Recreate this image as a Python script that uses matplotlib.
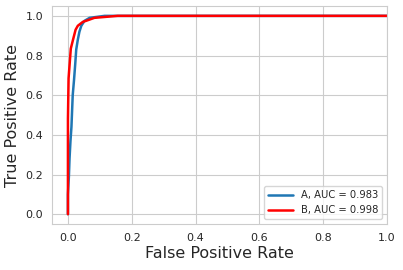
import matplotlib
matplotlib.use("Agg")
import matplotlib.pyplot as plt
import seaborn as sns

sns.set_style("whitegrid")
plt.rcParams['font.family'] = ['DejaVu Sans']

# ROC curve A
fpr_a = [0.0, 0.0, 0.003, 0.005, 0.008, 0.011, 0.015, 0.019, 0.023, 0.026, 0.031, 0.036, 0.042, 0.052, 0.068, 0.115, 1.0]
tpr_a = [0.0, 0.10, 0.19, 0.28, 0.37, 0.44, 0.60, 0.675, 0.76, 0.83, 0.88, 0.92, 0.95, 0.975, 0.99, 1.0, 1.0]
# ROC curve B
fpr_b = [0.0, 0.0, 0.002, 0.005, 0.009, 0.016, 0.024, 0.031, 0.047, 0.057, 0.083, 0.156, 1.0]
tpr_b = [0.0, 0.48, 0.685, 0.75, 0.835, 0.88, 0.93, 0.95, 0.97, 0.975, 0.99, 1.0, 1.0]
labels = ["A, AUC = 0.983", "B, AUC = 0.998"]

fig = plt.figure(figsize=(4.03, 2.70), dpi=100)
ax = fig.add_axes([0.129, 0.170, 0.831, 0.808])
ax.plot(fpr_a, tpr_a, color='#1f77b4', lw=1.8, label=labels[0])
ax.plot(fpr_b, tpr_b, color='red', lw=1.8, label=labels[1])
ax.set_xlim(-0.05, 1.0)
ax.set_ylim(-0.05, 1.05)
ax.set_xticks([0, 0.2, 0.4, 0.6, 0.8, 1.0])
ax.set_yticks([0, 0.2, 0.4, 0.6, 0.8, 1.0])
ax.tick_params(labelsize=8, colors='#262626', pad=3)
ax.set_xlabel("False Positive Rate", fontsize=11.5, color='#262626', labelpad=2)
ax.set_ylabel("True Positive Rate", fontsize=11.5, color='#262626')
ax.legend(loc='lower right', fontsize=7.2, handlelength=2.5)
fig.savefig("out.png", dpi=100)
